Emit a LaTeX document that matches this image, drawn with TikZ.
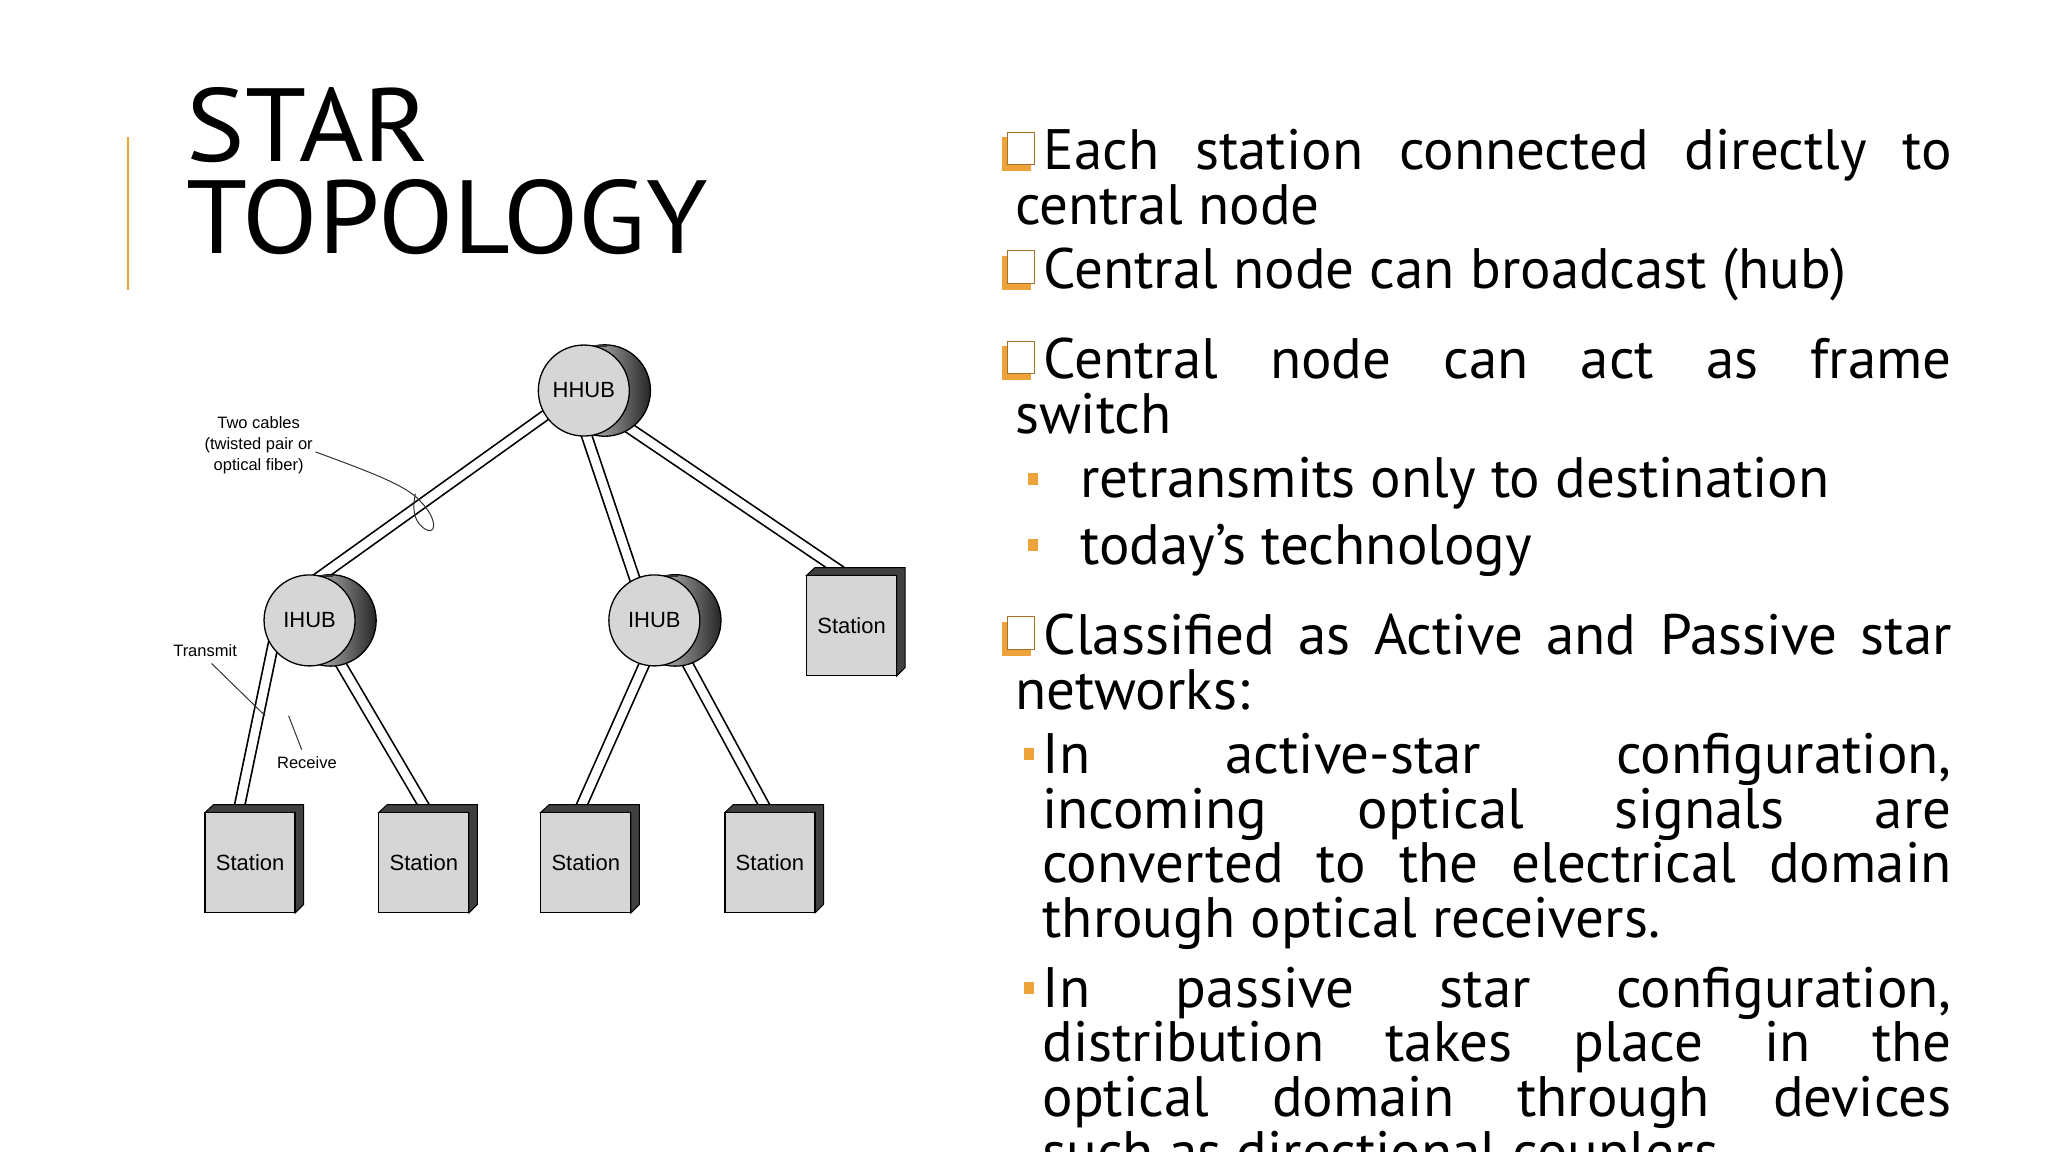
\documentclass[tikz,border=0pt]{standalone}
\usepackage{fontspec}
\setmainfont{PT Sans}
\newfontfamily\dfont{Liberation Sans}
\definecolor{acc}{HTML}{EDA23A}
\definecolor{facegray}{HTML}{D6D6D6}
\tikzset{
  cable/.style={line width=1.7pt, double=white, double distance=8.5pt},
  face/.style={circle, draw=black, line width=1.3pt, fill=facegray, minimum size=91pt, inner sep=0pt, font=\dfont\fontsize{22}{24}\selectfont},
  stbox/.style={rectangle, draw=black, line width=1.3pt, fill=facegray, minimum width=90pt, minimum height=100pt, inner sep=0pt, font=\dfont\fontsize{22}{24}\selectfont},
  lbl/.style={font=\dfont\fontsize{16.5}{21}\selectfont, align=center, inner sep=0pt},
  txt/.style={anchor=base west, inner sep=0pt, font=\fontsize{57}{60}\selectfont},
  lead/.style={line width=1pt, black!80},
}
\newcommand\hubdisc[3]{% name, x, y
  \fill[left color=white, right color=black!85, draw=black, line width=1.3pt] (#2+16,#3) circle[radius=35];
  \fill[black!80] (#2+4,#3-35) rectangle (#2+18,#3-33);
  \node[face] (#1) at (#2,#3) {};
}
\newcommand\stationbox[3]{% name, front center x, y
  \fill[black!75, draw=black, line width=1pt] (#2-34.5,#3-38.5) -- (#2-28,#3-44.5) -- (#2+41,#3-44.5) -- (#2+41,#3+32) -- (#2+34.5,#3+38.5) -- (#2+34.5,#3-38.5) -- cycle;
  \node[stbox] (#1) at (#2,#3) {Station};
}
\newcommand\hollowb[1]{% baseline y
  \fill[acc] (767,#1-25) rectangle (789,#1+1);
  \filldraw[fill=white, draw=acc!70!black, line width=0.8pt] (771,#1-29) rectangle (792,#1-4);
}
\newcommand\subb[2]{\fill[acc] (#1,#2-19) rectangle (#1+8,#2-10);}
\begin{document}
\begin{tikzpicture}[x=1.306pt, y=-1.306pt]
\useasboundingbox (0,0) rectangle (1568,882);
\clip (0,0) rectangle (1568,882);
% title
\draw[acc, line width=2.2pt] (98,105) -- (98,222);
\node[anchor=base west, inner sep=0, font=\fontsize{104}{110}\selectfont, xscale=1.06] (t1) at (143,124) {STAR};
\node[anchor=base west, inner sep=0, font=\fontsize{104}{110}\selectfont, xscale=1.06] (t2) at (143,194) {TOPOLOGY};
% cable coordinates
\coordinate (a1) at (430,309); \coordinate (b1) at (240,445);
\coordinate (a2) at (439.5,305); \coordinate (b2) at (492,461);
\coordinate (a3) at (454,309); \coordinate (b3) at (655,445);
\coordinate (a4) at (212,480); \coordinate (b4) at (179,638);
\coordinate (a5) at (243,478); \coordinate (b5) at (334,633);
\coordinate (a6) at (506,480); \coordinate (b6) at (438,633);
\coordinate (a7) at (511,480); \coordinate (b7) at (594,633);
\foreach \i in {1,...,7} { \draw[cable] (a\i) -- (b\i); }
% hubs
\hubdisc{hh}{447}{299}
\node[font=\dfont\fontsize{22}{24}\selectfont] at (hh) {HHUB};
\hubdisc{ihl}{237}{475}
\node[font=\dfont\fontsize{22}{24}\selectfont] at (ihl) {IHUB};
\hubdisc{ihr}{501}{475}
\node[font=\dfont\fontsize{22}{24}\selectfont] at (ihr) {IHUB};
% stations
\stationbox{s1}{191.5}{660.5}
\stationbox{s2}{324.5}{660.5}
\stationbox{s3}{448.5}{660.5}
\stationbox{s4}{589.5}{660.5}
\stationbox{s5}{652}{479}
% labels
\node[lbl] (two) at (198,341) {Two cables\\(twisted pair or\\optical fiber)};
\draw[lead] (two.east) ++(2,5) .. controls (285,362) and (312,372) .. (322,384)
  .. controls (336,398) and (334,412) .. (324,404)
  .. controls (316,398) and (316,388) .. (318,378);
\node[lbl] (tx) at (157,498) {Transmit};
\coordinate (txe) at (203,548);
\draw[lead] (162,508) -- (txe);
\node[lbl] (rx) at (235,584) {Receive};
\coordinate (rxs) at (221,548);
\draw[lead] (rxs) -- (231,574);
% right text
\hollowb{130}
\node[txt] (l1) at (799,130) {\makebox[908pt][s]{Each station connected directly to}};
\node[txt] (l2) at (777,172) {central node};
\hollowb{221}
\node[txt] (l3) at (799,221) {Central node can broadcast (hub)};
\hollowb{290}
\node[txt] (l4) at (799,290) {\makebox[908pt][s]{Central node can act as frame}};
\node[txt] (l5) at (777,332) {switch};
\subb{787}{381}
\node[txt] (l6) at (827,381) {retransmits only to destination};
\subb{787}{432}
\node[txt] (l7) at (827,432) {today’s technology};
\hollowb{501}
\node[txt] (l8) at (799,501) {\makebox[908pt][s]{Classified as Active and Passive star}};
\node[txt] (l9) at (777,543) {networks:};
\subb{784}{592}
\node[txt] (l10) at (798,592) {\makebox[909pt][s]{In active-star configuration,}};
\node[txt] (l11) at (798,634) {\makebox[909pt][s]{incoming optical signals are}};
\node[txt] (l12) at (798,676) {\makebox[909pt][s]{converted to the electrical domain}};
\node[txt] (l13) at (798,718) {through optical receivers.};
\subb{784}{771}
\node[txt] (l14) at (798,771) {\makebox[909pt][s]{In passive star configuration,}};
\node[txt] (l15) at (798,813) {\makebox[909pt][s]{distribution takes place in the}};
\node[txt] (l16) at (798,855) {\makebox[909pt][s]{optical domain through devices}};
\node[txt] (l17) at (798,897) {such as directional couplers};
\end{tikzpicture}
\end{document}
